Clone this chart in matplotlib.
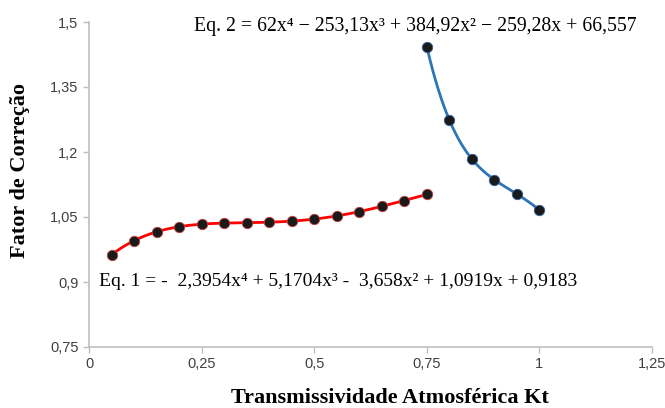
import matplotlib

matplotlib.use("Agg")

import matplotlib.pyplot as plt
import numpy as np
from matplotlib.ticker import FuncFormatter

# data
kt_low = [0.05, 0.10, 0.15, 0.20, 0.25, 0.30, 0.35, 0.40, 0.45, 0.50, 0.55, 0.60, 0.65, 0.70, 0.75]
fc_low = [0.963, 0.995, 1.016, 1.027, 1.034, 1.036, 1.037, 1.038, 1.040, 1.045, 1.053, 1.062, 1.075, 1.088, 1.102]
kt_high = [0.75, 0.80, 0.85, 0.90, 0.95, 1.00]
fc_high = [1.443, 1.274, 1.184, 1.136, 1.103, 1.066]

x_ticks = [0, 0.25, 0.5, 0.75, 1, 1.25]
y_ticks = [0.75, 0.9, 1.05, 1.2, 1.35, 1.5]

eq1 = "Eq. 1 = -  2,3954x\u2074 + 5,1704x\u00b3 -  3,658x\u00b2 + 1,0919x + 0,9183"
eq2 = "Eq. 2 = 62x\u2074 \u2212 253,13x\u00b3 + 384,92x\u00b2 \u2212 259,28x + 66,557"


def comma(v, _pos):
    s = f"{v:g}"
    return s.replace(".", ",")


def trend(xs, ys, deg=4):
    coef = np.polyfit(xs, ys, deg)
    xx = np.linspace(min(xs), max(xs), 200)
    return xx, np.polyval(coef, xx)


fig = plt.figure(figsize=(6.65, 4.08), dpi=100)
ax = fig.add_axes([89 / 665, 1 - 347 / 408, 563 / 665, 325 / 408])

xx, yy = trend(kt_low, fc_low)
ax.plot(xx, yy, color="#FF0000", lw=2, zorder=2)
xx, yy = trend(kt_high, fc_high)
ax.plot(xx, yy, color="#2E75B6", lw=2, zorder=2)

ax.plot(kt_low, fc_low, "o", ms=7.5, mfc="#1a1a1a", mec="#c04040", mew=0.6, zorder=3)
ax.plot(kt_high, fc_high, "o", ms=7.5, mfc="#1a1a1a", mec="#3060a0", mew=0.6, zorder=3)

ax.set_xlim(0, 1.25)
ax.set_ylim(0.75, 1.5)
ax.set_xticks(x_ticks)
ax.set_yticks(y_ticks)
ax.xaxis.set_major_formatter(FuncFormatter(comma))
ax.yaxis.set_major_formatter(FuncFormatter(comma))

for side in ("top", "right"):
    ax.spines[side].set_visible(False)
for side in ("left", "bottom"):
    ax.spines[side].set_color("#BFBFBF")
    ax.spines[side].set_linewidth(1.2)
ax.tick_params(colors="#BFBFBF", length=4, width=1, labelcolor="#404040", labelsize=10.5)
for lab in ax.get_xticklabels() + ax.get_yticklabels():
    lab.set_family(["Liberation Sans", "DejaVu Sans"])

serif = ["Liberation Serif", "DejaVu Serif"]
fig.text(20 / 665, 1 - 170 / 408, "Fator de Correção", rotation=90, family=serif,
         fontweight="bold", fontsize=16, ha="center", va="center")
fig.text(390 / 665, 1 - 398 / 408, "Transmissividade Atmosférica Kt", family=serif,
         fontweight="bold", fontsize=16, ha="center", va="center")

fig.text(194 / 665, 1 - 27 / 408, eq2, family=serif, fontsize=14.2, ha="left", va="center")
fig.text(99 / 665, 1 - 282 / 408, eq1, family=serif, fontsize=14, ha="left", va="center")

fig.savefig("out.png", dpi=100)
